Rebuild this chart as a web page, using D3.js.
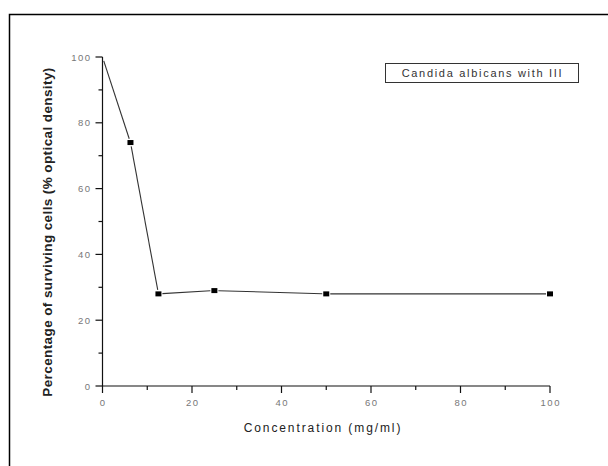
<!DOCTYPE html>
<html lang="en">
<head>
    <meta charset="UTF-8">
    <title>Candida albicans with III</title>
    <script src="https://d3js.org/d3.v7.min.js"></script>
    <style>
        body {
            margin: 0;
            padding: 0;
            background-color: #fff;
            font-family: Arial, 'Liberation Sans', sans-serif;
        }
        .tick-label {
            fill: #777;
            font-size: 9.5px;
            letter-spacing: 1.5px;
        }
        .axis-title {
            fill: #222;
        }
    </style>
</head>
<body>
    <div id="chart"></div>

    <script>
        // Data
        const concentration = [0, 6.25, 12.5, 25, 50, 100];
        const survival = [100, 74, 28, 29, 28, 28];
        const xTicks = [0, 20, 40, 60, 80, 100];
        const yTicks = [0, 20, 40, 60, 80, 100];
        const seriesName = "Candida albicans with III";

        const width = 608, height = 466;

        const svg = d3.select("#chart")
            .append("svg")
            .attr("width", width)
            .attr("height", height);

        // outer frame
        svg.append("rect")
            .attr("x", 9.5).attr("y", 14.5)
            .attr("width", width).attr("height", height)
            .attr("fill", "none")
            .attr("stroke", "#000")
            .attr("stroke-width", 1.5);

        const x = d3.scaleLinear().domain([0, 100]).range([102.5, 550]);
        const y = d3.scaleLinear().domain([0, 100]).range([386, 57]);

        // x axis
        const gx = svg.append("g").attr("transform", "translate(0,386)");
        gx.append("line")
            .attr("x1", x(0)).attr("x2", x(100))
            .attr("stroke", "#111").attr("stroke-width", 1.2);
        gx.selectAll(".minor")
            .data(d3.range(0, 101, 10))
            .enter().append("line")
            .attr("x1", d => x(d)).attr("x2", d => x(d))
            .attr("y1", 0).attr("y2", d => d % 20 === 0 ? 7 : 4)
            .attr("stroke", "#111").attr("stroke-width", 1.2);
        gx.selectAll("text")
            .data(xTicks)
            .enter().append("text")
            .attr("class", "tick-label")
            .attr("x", d => x(d) + 0.75)
            .attr("y", 20)
            .attr("text-anchor", "middle")
            .text(d => d);

        // y axis
        const gy = svg.append("g").attr("transform", "translate(102.5,0)");
        gy.append("line")
            .attr("y1", y(0)).attr("y2", y(100))
            .attr("stroke", "#111").attr("stroke-width", 1.2);
        gy.selectAll(".minor")
            .data(d3.range(0, 101, 10))
            .enter().append("line")
            .attr("y1", d => y(d)).attr("y2", d => y(d))
            .attr("x1", 0).attr("x2", d => d % 20 === 0 ? -7 : -4)
            .attr("stroke", "#111").attr("stroke-width", 1.2);
        gy.selectAll("text")
            .data(yTicks)
            .enter().append("text")
            .attr("class", "tick-label")
            .attr("x", -11)
            .attr("y", d => y(d) + 3.5)
            .attr("text-anchor", "end")
            .text(d => d);

        // axis titles
        svg.append("text")
            .attr("class", "axis-title")
            .attr("x", 323).attr("y", 432)
            .attr("text-anchor", "middle")
            .attr("font-size", "12px")
            .attr("letter-spacing", "1.9px")
            .text("Concentration (mg/ml)");

        svg.append("text")
            .attr("class", "axis-title")
            .attr("transform", "translate(52,232) rotate(-90)")
            .attr("text-anchor", "middle")
            .attr("font-size", "13.5px")
            .attr("font-weight", "bold")
            .attr("letter-spacing", "0.4px")
            .text("Percentage of surviving cells (% optical density)");

        // line, drawn as segments with a small gap at each marker
        const pts = concentration.map((c, i) => [x(c), y(survival[i])]);
        const segs = d3.pairs(pts).map(([a, b]) => {
            const dx = b[0] - a[0], dy = b[1] - a[1];
            const len = Math.hypot(dx, dy);
            const g = 4;
            return [a[0] + dx / len * g, a[1] + dy / len * g,
                    b[0] - dx / len * g, b[1] - dy / len * g];
        });
        svg.append("g")
            .selectAll("line")
            .data(segs)
            .enter().append("line")
            .attr("x1", d => d[0]).attr("y1", d => d[1])
            .attr("x2", d => d[2]).attr("y2", d => d[3])
            .attr("stroke", "#333")
            .attr("stroke-width", 1.1);

        // square markers (first one sits under the axis)
        svg.append("g")
            .selectAll("rect")
            .data(concentration.map((c, i) => [c, survival[i]]).slice(1))
            .enter().append("rect")
            .attr("x", d => x(d[0]) - 3)
            .attr("y", d => y(d[1]) - 2.5)
            .attr("width", 6)
            .attr("height", 5)
            .attr("fill", "#000");

        // legend box
        const lg = svg.append("g").attr("transform", "translate(385.5,63.5)");
        lg.append("rect")
            .attr("width", 193).attr("height", 19)
            .attr("fill", "#fff")
            .attr("stroke", "#333")
            .attr("stroke-width", 1);
        lg.append("text")
            .attr("x", 97).attr("y", 13.5)
            .attr("text-anchor", "middle")
            .attr("font-size", "11px")
            .attr("letter-spacing", "1.7px")
            .attr("fill", "#333")
            .text(seriesName);
    </script>
</body>
</html>
